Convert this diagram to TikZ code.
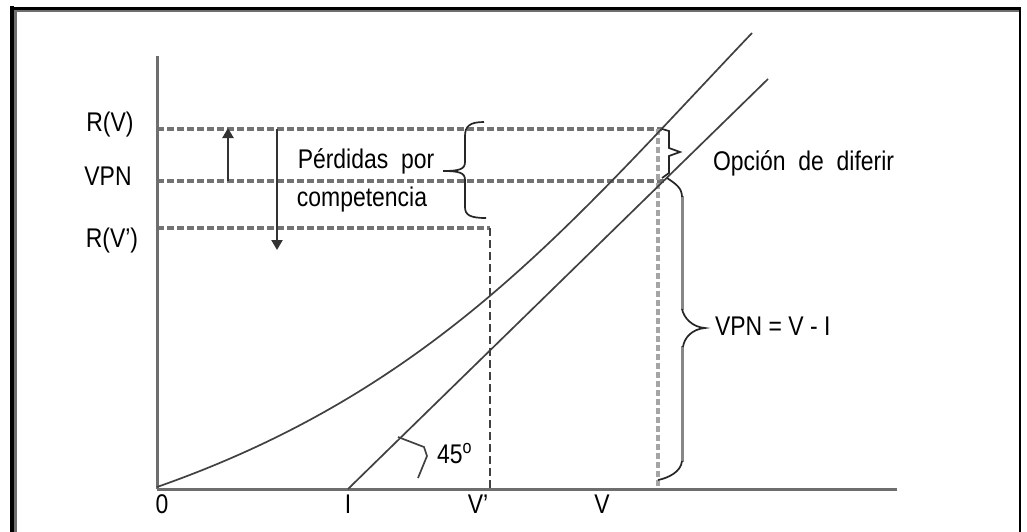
\documentclass[tikz,border=0pt]{standalone}
\usepackage{fontspec}
\setmainfont[FakeStretch=0.85]{Liberation Sans}
\usetikzlibrary{arrows.meta}
\definecolor{axisgray}{RGB}{110,110,110}
\definecolor{guidegray}{RGB}{115,115,115}
\definecolor{darkline}{RGB}{65,65,65}
\definecolor{lightguide}{RGB}{165,165,165}
\definecolor{bracegray}{RGB}{135,135,135}
\tikzset{
  x=1pt, y=-1pt,
  lbl/.style={inner sep=0pt, outer sep=0pt, font=\fontsize{27}{31}\selectfont},
  axisline/.style={draw=axisgray, line width=3pt},
  guideh/.style={draw=guidegray, line width=3.2pt, dash pattern=on 7pt off 3pt},
  guidev/.style={draw=darkline, line width=2.2pt, dash pattern=on 8pt off 4pt},
  guidelight/.style={draw=lightguide, line width=3.8pt, dash pattern=on 6pt off 3pt},
  curveline/.style={draw=darkline, line width=1.7pt},
  bracecurl/.style={draw=black!85, line width=1.7pt},
  bracebar/.style={draw=bracegray, line width=3pt},
  arr/.style={draw=black!80, line width=2.2pt, -{Triangle[width=11pt,length=10pt]}},
  framedark/.style={draw=black, line cap=rect},
  framegray/.style={draw=axisgray, line cap=rect}
}
\begin{document}
\begin{tikzpicture}
\useasboundingbox (0,0) rectangle (1027,531);
\fill[white] (0,0) rectangle (1027,531);

% outer frame
\draw[framedark, line width=4pt] (12,8) -- (12,531);
\draw[framegray, line width=3pt] (15.5,11) -- (15.5,531);
\draw[framedark, line width=2.4pt] (12,8.3) -- (1020,8.3);
\draw[framegray, line width=2.6pt] (15.5,11) -- (1019,11);
\draw[framedark, line width=2.4pt] (1020,8.3) -- (1020,531);

% key points
\coordinate (O) at (157,489);
\coordinate (Ytop) at (157,56);
\coordinate (Xend) at (897,489);
\coordinate (Ipt) at (348,489);
\coordinate (Lend) at (768,79);
\coordinate (Cstart) at (157,487);
\coordinate (Cend) at (752,33);
\coordinate (RV) at (157,129);
\coordinate (VPNy) at (157,181);
\coordinate (RVp) at (157,228);
\coordinate (RVend) at (662,129);
\coordinate (VPNend) at (667,181);
\coordinate (Vpcorner) at (490,228);
\coordinate (Vpfoot) at (490,489);
\coordinate (Vtop) at (658,129);
\coordinate (Vfoot) at (658,489);

% guide lines
\draw[guideh] (RV) -- (RVend);
\draw[guideh] (VPNy) -- (VPNend);
\draw[guideh] (RVp) -- (Vpcorner);
\draw[guidev] (Vpcorner) -- (Vpfoot);
\draw[guidelight] (Vtop) -- (Vfoot);

% axes
\draw[axisline] (Ytop) -- (O);
\draw[axisline] (O) -- (Xend);

% value curve and the 45 degree line
\draw[curveline] (Cstart) .. controls (437,389) and (572,222) .. (Cend);
\draw[curveline] (Ipt) -- (Lend);

% 45 degree marker
\coordinate (m1) at (398,437);
\coordinate (m2) at (424,447);
\coordinate (m3) at (427,456);
\coordinate (m4) at (418,478);
\draw[darkline, line width=1.7pt] (m1) -- (m2) -- (m3) -- (m4);

% arrows
\coordinate (ua) at (228,181);
\coordinate (ub) at (228,128);
\coordinate (da) at (277,129);
\coordinate (db) at (277,250);
\draw[arr] (ua) -- (ub);
\draw[arr] (da) -- (db);

% brace: losses through competition
\draw[bracecurl] (484,122) .. controls (470,122) and (465,126) .. (465,136)
  -- (465,162) .. controls (465,169) and (460,171) .. (443,171)
  .. controls (460,171) and (465,173) .. (465,180)
  -- (465,207) .. controls (465,215) and (470,218) .. (486,218);

% brace: option to defer
\draw[bracecurl] (662,129) -- (669,131) -- (669,148) -- (680,152)
  -- (669,156) -- (669,173) -- (662,178);

% brace: VPN = V - I
\draw[bracebar] (682,196) -- (682,310);
\draw[bracebar] (682,346) -- (682,462);
\draw[bracecurl] (667,178) .. controls (676,184) and (682,188) .. (682,197);
\draw[bracecurl] (682,309) .. controls (684,318) and (692,327) .. (705,328)
  .. controls (692,329) and (684,338) .. (683,347);
\draw[bracecurl] (682,461) .. controls (681,472) and (668,478) .. (658,480);

% labels
\node[lbl, anchor=base] (tRV) at (110,131) {R(V)};
\node[lbl, anchor=base] (tVPN) at (108,185) {VPN};
\node[lbl, anchor=base] (tRVp) at (112,247) {R(V’)};
\node[lbl, anchor=base] (tPer) at (366,168) {Pérdidas\ \ por};
\node[lbl, anchor=base] (tComp) at (362,206) {competencia};
\node[lbl, anchor=base west] (tOpc) at (713,170) {Opción\ \ de\ \ diferir};
\node[lbl, anchor=base west] (tVPNeq) at (715,335) {VPN = V - I};
\node[lbl, anchor=base west] (t45) at (437,463) {45\textsuperscript{o}};
\node[lbl, anchor=base] (t0) at (162,513) {0};
\node[lbl, anchor=base] (tI) at (348,513) {I};
\node[lbl, anchor=base] (tVp) at (478,513) {V’};
\node[lbl, anchor=base] (tV) at (602,513) {V};
\end{tikzpicture}
\end{document}
